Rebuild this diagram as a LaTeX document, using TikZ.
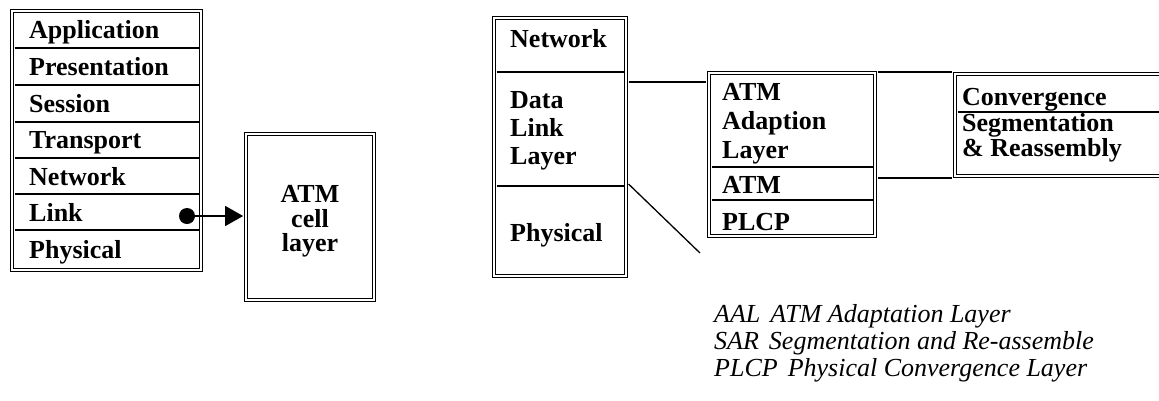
\documentclass[tikz,border=0pt]{standalone}
\usepackage{fontspec}
\setmainfont{Liberation Serif}
\usetikzlibrary{arrows.meta}
\begin{document}
\begin{tikzpicture}[x=1pt,y=-1pt,
  frame/.style={draw, double, line width=1.3pt, double distance=1.8pt, inner sep=0pt, rectangle},
  lbl/.style={font=\fontsize{26}{28}\selectfont\bfseries, anchor=base west, inner sep=0pt},
  clbl/.style={font=\fontsize{26}{28}\selectfont\bfseries, anchor=base, inner sep=0pt},
  leg/.style={font=\fontsize{26}{28}\selectfont\itshape, anchor=base west, inner sep=0pt},
  div/.style={line width=1.3pt},
  conn/.style={line width=1.3pt}]
\useasboundingbox (0,0) rectangle (1159,400);
\clip (0,0) rectangle (1159,400);

% ---------- OSI stack ----------
\node[frame, minimum width=188.6pt, minimum height=258.6pt] (osi) at (106.5,140.5) {};
\foreach \yy in {48,85,122,158,194,230} \draw[div] (14.5,\yy) -- (198.5,\yy);
\node[lbl] (app)  at (29,38)  {Application};
\node[lbl] (pres) at (29,75.5)  {Presentation};
\node[lbl] (sess) at (29,112) {Session};
\node[lbl] (trans) at (29,148.5) {Transport};
\node[lbl] (netw) at (29,185) {Network};
\node[lbl] (link) at (29,221) {Link};
\node[lbl] (phys) at (29,258) {Physical};

\node[circle, fill, inner sep=0pt, minimum size=16pt] (dot) at (187,216) {};

% ---------- ATM cell layer ----------
\node[frame, minimum width=127.6pt, minimum height=165.6pt] (cell) at (310,217) {};
\node[clbl] (c1) at (310,202) {ATM};
\node[clbl] (c2) at (310,227) {cell};
\node[clbl] (c3) at (310,251) {layer};

\draw[conn, -{Triangle[length=18pt,width=20pt]}, shorten >=2.4pt] (dot.center) -- (dot.center -| cell.west);

% ---------- Network / DLL / Physical ----------
\node[frame, minimum width=131.6pt, minimum height=257.6pt] (net) at (560,147) {};
\foreach \yy in {72,186} \draw[div] (496.5,\yy) -- (623.5,\yy);
\node[lbl] (n1) at (510,47)  {Network};
\node[lbl] (n2) at (510,108) {Data};
\node[lbl] (n3) at (510,136) {Link};
\node[lbl] (n4) at (510,164) {Layer};
\node[lbl] (n5) at (510,241) {Physical};

% ---------- AAL / ATM / PLCP ----------
\node[frame, minimum width=165.6pt, minimum height=162.6pt] (aal) at (792,154.5) {};
\foreach \yy in {167,200} \draw[div] (711.5,\yy) -- (872.5,\yy);
\node[lbl] (a1) at (722,100) {ATM};
\node[lbl] (a2) at (722,129) {Adaption};
\node[lbl] (a3) at (722,158) {Layer};
\node[lbl] (a4) at (722,193) {ATM};
\node[lbl] (a5) at (722,230) {PLCP};

% ---------- Convergence / SAR ----------
\node[frame, minimum width=222.8pt, minimum height=101.6pt] (conv) at (1066.6,125) {};
\draw[div] (957.5,112) -- (1175,112);
\node[lbl] (s1) at (962,105) {Convergence};
\node[lbl] (s2) at (962,131) {Segmentation};
\node[lbl] (s3) at (962,156) {\&~Reassembly};

% ---------- connectors ----------
\draw[conn, shorten <=2.2pt, shorten >=2.2pt] (net.east |- 0,82) -- (aal.west |- 0,82);
\coordinate (dend) at (700,253);
\draw[conn, shorten <=3pt] (net.east |- 0,182) -- (dend);
\draw[conn, shorten <=2.2pt, shorten >=2.2pt] (aal.east |- 0,72) -- (conv.west |- 0,72);
\draw[conn, shorten <=2.2pt, shorten >=2.2pt] (aal.east |- 0,178) -- (conv.west |- 0,178);

% ---------- legend ----------
\node[leg] (l1) at (714,322) {AAL\hspace{10pt}ATM Adaptation Layer};
\node[leg] (l2) at (714,349) {SAR\hspace{10pt}Segmentation and Re-assemble};
\node[leg] (l3) at (714,376) {PLCP\hspace{10pt}Physical Convergence Layer};
\end{tikzpicture}
\end{document}
